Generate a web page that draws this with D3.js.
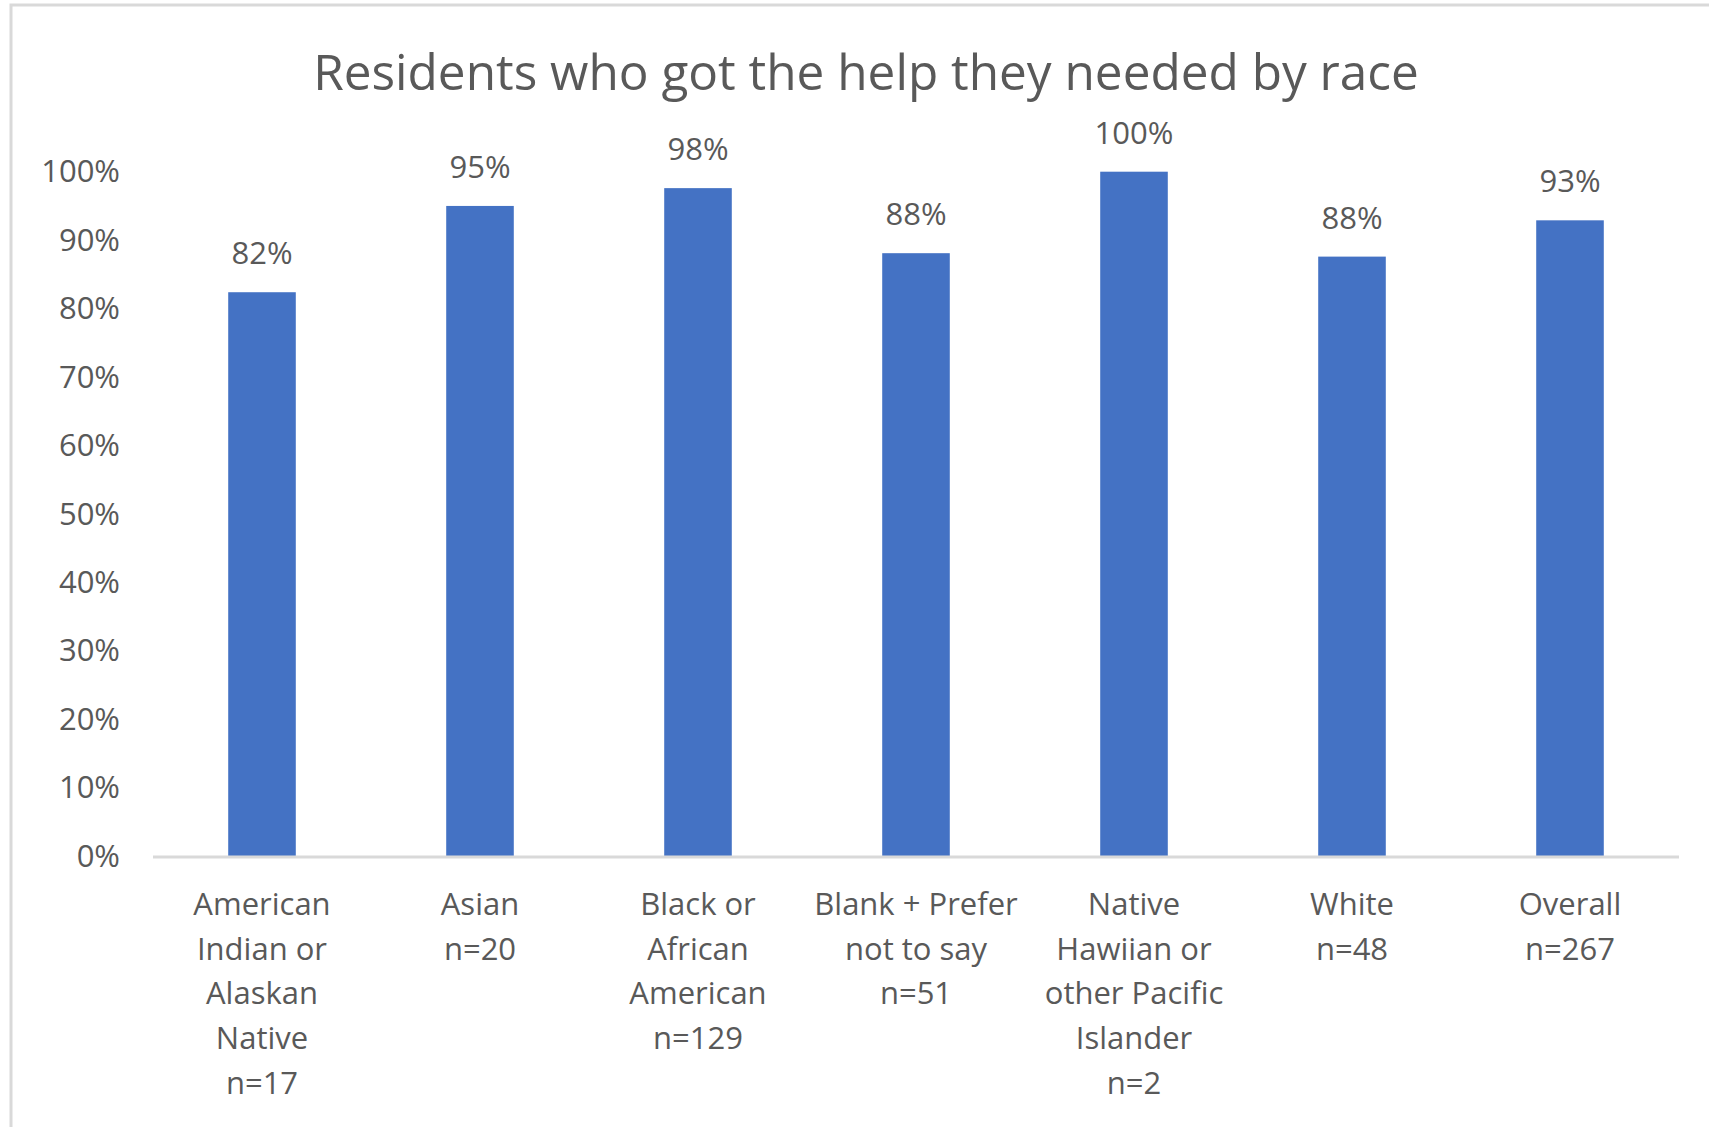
<!DOCTYPE html>
<html>
<head>
<meta charset="utf-8">
<script src="https://cdn.jsdelivr.net/npm/d3@7"></script>
<style>
  html, body { margin: 0; padding: 0; background: #ffffff; }
  svg { display: block; }
  text { font-family: "Open Sans", "Noto Sans", sans-serif; fill: #595959; }
</style>
</head>
<body>
<svg id="chart" width="1709" height="1127"></svg>
<script>
const title = "Residents who got the help they needed by race";
const categories = [
  ["American", "Indian or", "Alaskan", "Native", "n=17"],
  ["Asian", "n=20"],
  ["Black or", "African", "American", "n=129"],
  ["Blank + Prefer", "not to say", "n=51"],
  ["Native", "Hawiian or", "other Pacific", "Islander", "n=2"],
  ["White", "n=48"],
  ["Overall", "n=267"]
];
const values = [0.824, 0.95, 0.976, 0.881, 1.0, 0.876, 0.929];
const yTicks = [0, 0.1, 0.2, 0.3, 0.4, 0.5, 0.6, 0.7, 0.8, 0.9, 1.0];

const svg = d3.select("#chart");
const W = 1709, H = 1127;
const fontSize = 31;

// chart border (extends beyond the visible area on right and bottom)
svg.append("rect")
  .attr("x", 11).attr("y", 5)
  .attr("width", W + 20).attr("height", H + 20)
  .attr("fill", "#ffffff")
  .attr("stroke", "#d9d9d9").attr("stroke-width", 3);

const keys = categories.map((c, i) => i);
const x = d3.scaleBand().domain(keys).range([153, 1679]).paddingInner(0.69).paddingOuter(0.345);
const y = d3.scaleLinear().domain([0, 1]).range([856.5, 171.7]);

// title
svg.append("text")
  .attr("x", 866).attr("y", 90)
  .attr("text-anchor", "middle")
  .style("font-size", "49.5px")
  .text(title);

// y axis labels
const yAxis = d3.axisLeft(y).tickValues(yTicks).tickFormat(d3.format(".0%")).tickSize(0).tickPadding(0);
const yg = svg.append("g").attr("transform", "translate(120,0)").call(yAxis);
yg.select(".domain").remove();
yg.selectAll("text")
  .style("font-size", fontSize + "px")
  .style("font-family", "'Open Sans', sans-serif")
  .attr("fill", "#595959");

// bars
svg.append("g").selectAll("rect")
  .data(values)
  .join("rect")
  .attr("x", (d, i) => x(i))
  .attr("width", x.bandwidth())
  .attr("y", d => y(d))
  .attr("height", d => y(0) - y(d))
  .attr("fill", "#4472C4");

// x axis baseline
svg.append("line")
  .attr("x1", 153).attr("x2", 1679)
  .attr("y1", y(0) + 0.5).attr("y2", y(0) + 0.5)
  .attr("stroke", "#d9d9d9").attr("stroke-width", 3);

// data labels
svg.append("g").selectAll("text")
  .data(values)
  .join("text")
  .attr("x", (d, i) => x(i) + x.bandwidth() / 2)
  .attr("y", d => y(d) - 28)
  .attr("text-anchor", "middle")
  .style("font-size", fontSize + "px")
  .text(d => d3.format(".0%")(d));

// category labels
const cg = svg.append("g").selectAll("text")
  .data(categories)
  .join("text")
  .attr("x", (d, i) => x(i) + x.bandwidth() / 2)
  .attr("y", 915)
  .attr("text-anchor", "middle")
  .style("font-size", fontSize + "px");
cg.selectAll("tspan")
  .data(d => d)
  .join("tspan")
  .attr("x", function () { return this.parentNode.getAttribute("x"); })
  .attr("dy", (d, i) => i === 0 ? 0 : 44.7)
  .text(d => d);
</script>
</body>
</html>
